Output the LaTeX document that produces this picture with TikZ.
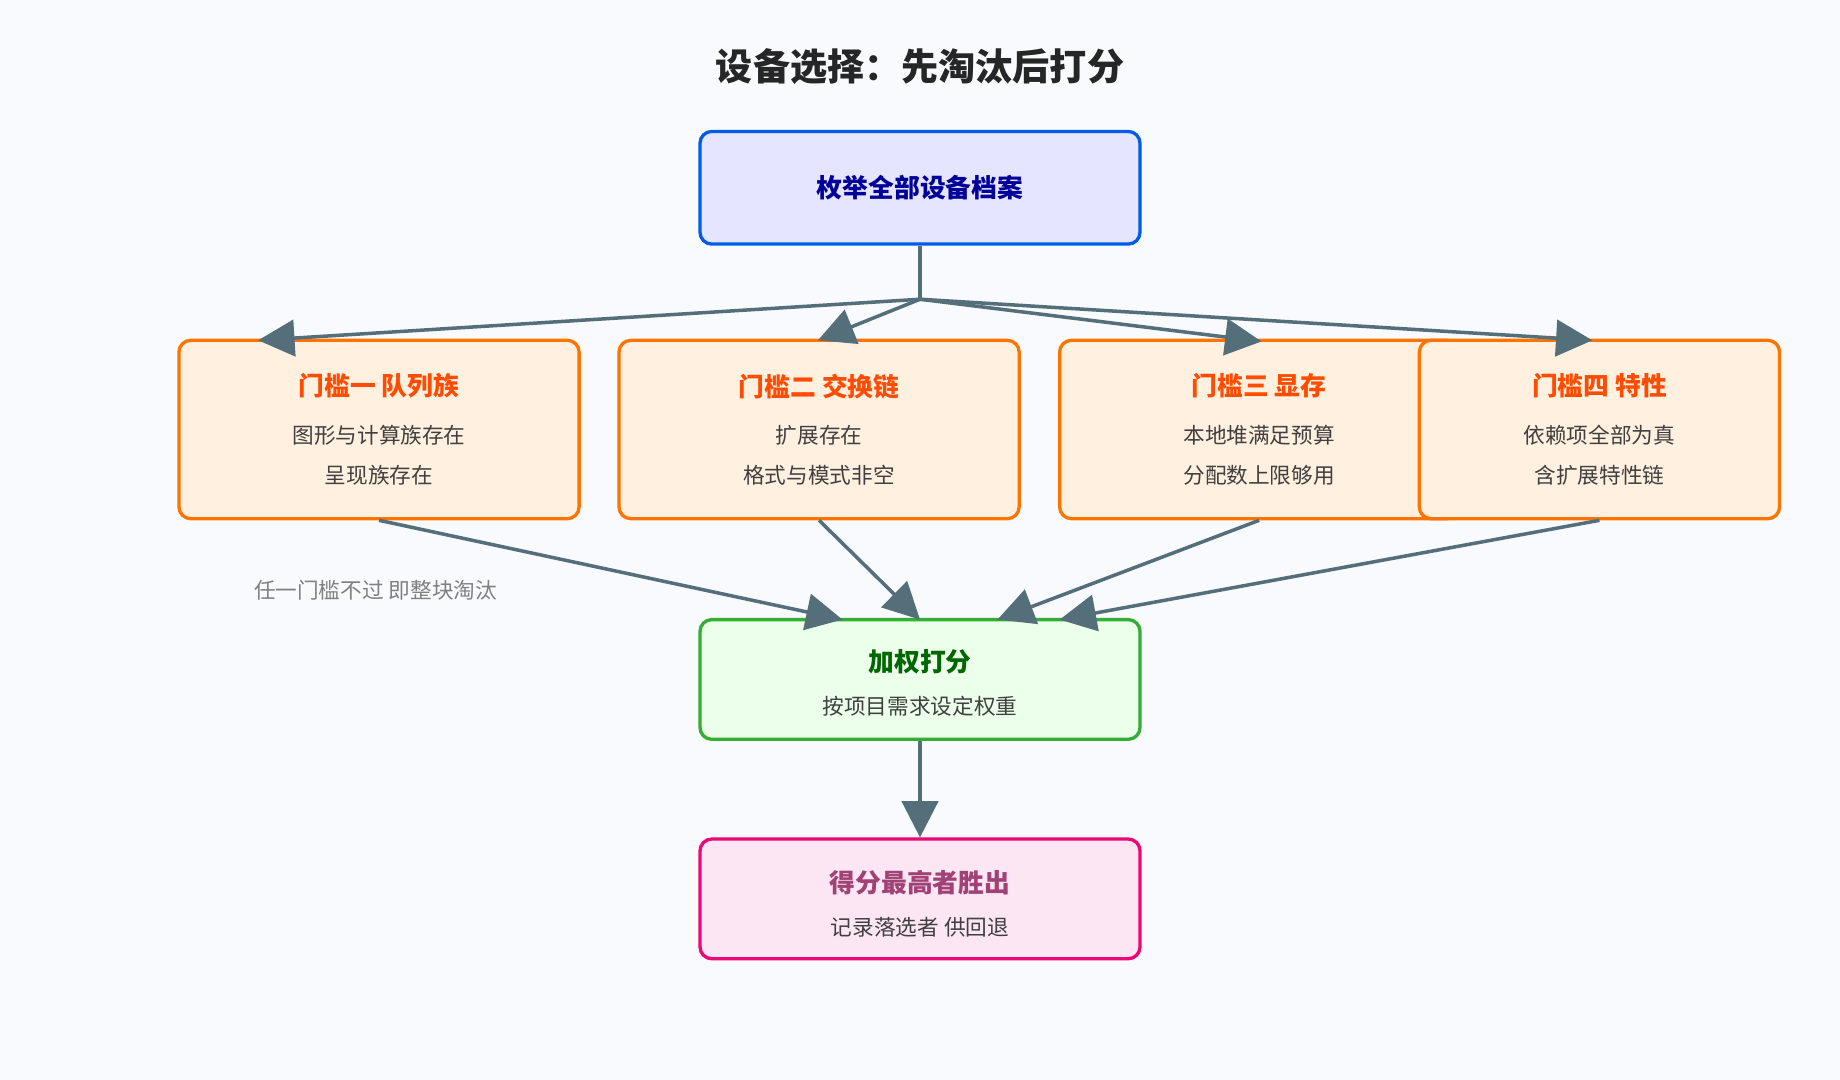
\documentclass[tikz,border=0pt]{standalone}
\usepackage{fontspec}
\setmainfont{Noto Sans CJK SC}
\usetikzlibrary{arrows.meta}
\definecolor{bgcol}{HTML}{F8FAFD}
\definecolor{linkcol}{HTML}{546E7A}
\tikzset{>={Triangle[length=0.62cm,width=0.62cm]},
  box/.style = {draw,rounded corners=0.2cm,line width=1.6pt,inner sep=0pt},
  link/.style = {linkcol,line width=1.7pt},
  ttl/.style = {font=\fontsize{12.5}{14}\selectfont\bfseries},
  txt/.style = {font=\fontsize{10.5}{13}\selectfont,text=black!75}
}
\begin{document}
\begin{tikzpicture}[x=0.02cm,y=-0.02cm]
  \fill[bgcol] (0,0) rectangle (1568,920);
  \node[font=\fontsize{18}{20}\selectfont\bfseries,text=black!85] (title) at (784,57) {设备选择：先淘汰后打分};

  % top
  \node[box,draw=blue!60!cyan!90!black,fill=blue!10,minimum width=7.5cm,minimum height=1.92cm] (enum) at (784,160) {};
  \node[ttl,text=blue!60!black] at (enum) {枚举全部设备档案};

  % gates
  \foreach \name/\cx/\w/\head/\la/\lb in {
      g1/323/341/门槛一 队列族/图形与计算族存在/呈现族存在,
      g2/698/341/门槛二 交换链/扩展存在/格式与模式非空,
      g3/1073/340/门槛三 显存/本地堆满足预算/分配数上限够用,
      g4/1363/307/门槛四 特性/依赖项全部为真/含扩展特性链}{
    \node[box,draw=orange!90!red,fill=orange!12,minimum width=\w*0.02cm,minimum height=3.04cm] (\name) at (\cx,366) {};
    \node[ttl,text=orange!60!red] at (\cx,329) {\head};
    \node[txt] at (\cx,371) {\la};
    \node[txt] at (\cx,405) {\lb};
  }
  \node[txt,text=black!50] (note) at (320,503) {任一门槛不过 即整块淘汰};

  % score
  \node[box,draw=green!60!black!80,fill=green!8,minimum width=7.5cm,minimum height=2.04cm] (score) at (784,579) {};
  \node[ttl,text=green!40!black] at (784,564) {加权打分};
  \node[txt] at (784,602) {按项目需求设定权重};

  % winner
  \node[box,draw=magenta!80!red,fill=magenta!10,minimum width=7.5cm,minimum height=2.04cm] (win) at (784,766) {};
  \node[ttl,text=magenta!60!black] at (784,752) {得分最高者胜出};
  \node[txt] at (784,790) {记录落选者 供回退};

  % links
  \coordinate (fork) at (784,255);
  \coordinate (t1) at (220,290);
  \coordinate (t2) at (697,290);
  \coordinate (t3) at (1075,291);
  \coordinate (t4) at (1357,290);
  \draw[link] (enum.south) -- (fork);
  \foreach \t in {t1,t2,t3,t4}
    \draw[link,->] (fork) -- (\t);
  \draw[link,->] (g1.south) -- (718,528);
  \draw[link,->] (g2.south) -- (784,528);
  \draw[link,->] (g3.south) -- (850,528);
  \draw[link,->] (g4.south) -- (903,528);
  \draw[link,->] (score.south) -- (win.north);
\end{tikzpicture}
\end{document}
